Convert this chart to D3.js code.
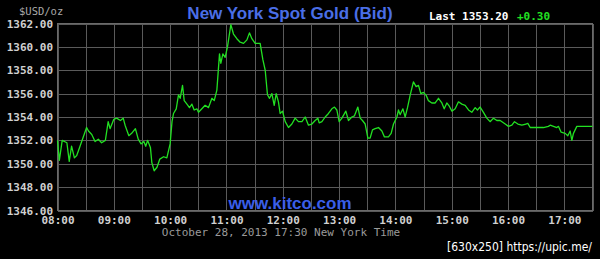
<!DOCTYPE html>
<html>
<head>
<meta charset="utf-8">
<script src="https://cdn.jsdelivr.net/npm/d3@7"></script>
<style>
  html, body { margin: 0; padding: 0; background: #000; }
  svg { display: block; }
  .grid line, .grid path { stroke: #5a5a5a; shape-rendering: crispEdges; }
  .lbl text { font-family: "DejaVu Sans Mono", monospace; font-weight: bold; font-size: 11px; fill: #d0d0d0; }
</style>
</head>
<body>
<div id="chart"></div>
<script>
// minutes after 08:00 and the bid price
const minutes = [0, 2, 5, 10, 12.5, 15, 18, 20.5, 24, 31, 33, 36.5, 40, 43.5, 47, 51, 54, 56, 60, 63, 67, 70, 72, 76, 79, 83, 86, 89, 92, 94, 96, 99, 100.5, 103, 106, 109, 113, 116.5, 120,
  122, 123.6, 126.5, 128.9, 130.7, 133.2, 135, 137.9, 140.6, 143.2, 145.6, 148.5, 150.2, 153.8, 157.3, 160.9, 164.5, 167, 169.8, 172.6, 174, 176.2, 178.6, 181.1, 184.7, 187.5, 191.1, 194.6, 198.2, 201.8, 204.5, 207.1, 210.6, 215.9, 218.8, 221.3, 223.7, 225.9, 228.4, 230.9, 233, 235.4,
  237.2, 239.7, 242.6, 246.1, 249.7, 253.2, 256.7, 260.4, 263.9, 267.4, 271, 274.5, 277.4, 278.8, 281.7, 285.2, 288.7, 292.3, 295.1, 297.6, 300.1, 303, 307.2, 310, 313.6, 316.4, 320, 322.5, 324.9, 327.8, 330.7, 333.1, 335.6, 338.4, 342, 345.6, 348.3, 352.6, 355.5,
  358, 361.6, 363.3, 365, 368, 370.4, 372.9, 375.7, 379.2, 382.1, 384.6, 387.1, 389.9, 392.8, 395.2, 398.8, 402.4, 405.9, 409.5, 412, 414.8, 417.6, 420.2, 423.7, 427.2, 430.8, 434.3, 437.9, 441.4, 445, 447.4, 450.3, 453.8, 457.4, 460.9, 464.5, 468.1, 471.6,
  477, 480.5, 484.1, 486.9, 490.5, 494.7, 499, 501.1, 503.6, 507.1, 512.4, 517.7, 523, 524.9, 528.4, 532, 533.7, 536.6, 540.9, 543.7, 546.2, 548, 549.7, 551.5, 553.3, 556.8, 570]
const prices = [1352.0, 1350.3, 1352.0, 1351.8, 1350.2, 1351.5, 1350.5, 1350.7, 1351.5, 1353.1, 1352.8, 1352.5, 1351.9, 1352.1, 1351.8, 1352.0, 1353.6, 1353.0, 1353.8, 1353.9, 1353.7, 1353.9, 1353.3, 1352.4, 1352.6, 1353.0, 1352.1, 1351.7, 1351.9, 1351.5, 1352.0, 1351.4, 1350.1, 1349.4, 1349.7, 1350.4, 1350.6, 1350.5, 1351.7,
  1353.6, 1354.3, 1354.7, 1355.9, 1355.6, 1356.7, 1355.4, 1355.1, 1354.8, 1355.1, 1354.6, 1354.7, 1354.4, 1354.7, 1355.0, 1354.8, 1355.6, 1355.4, 1356.3, 1359.4, 1358.6, 1359.4, 1359.1, 1360.0, 1361.9, 1361.1, 1360.7, 1360.4, 1360.3, 1360.6, 1361.2, 1360.7, 1360.3, 1360.3, 1358.9, 1358.0, 1355.9, 1355.6, 1356.0, 1355.0, 1356.0, 1355.3,
  1354.3, 1354.5, 1353.6, 1353.1, 1353.4, 1353.9, 1353.6, 1353.6, 1354.0, 1353.3, 1353.4, 1353.7, 1353.9, 1353.5, 1353.6, 1354.0, 1354.3, 1354.7, 1354.85, 1354.6, 1353.6, 1353.9, 1354.5, 1353.7, 1354.0, 1354.1, 1354.85, 1353.9, 1353.7, 1353.4, 1352.2, 1352.2, 1352.9, 1353.0, 1353.1, 1352.8, 1352.3, 1352.3, 1352.6,
  1353.4, 1354.0, 1354.6, 1354.2, 1354.7, 1354.0, 1354.8, 1355.85, 1357.0, 1356.6, 1356.7, 1356.0, 1356.1, 1355.85, 1355.4, 1355.2, 1355.2, 1355.6, 1355.2, 1354.7, 1355.2, 1354.9, 1354.5, 1354.7, 1355.3, 1355.1, 1355.0, 1354.6, 1354.4, 1354.8, 1354.6, 1354.85, 1354.4, 1353.9, 1353.6, 1353.9, 1353.7, 1353.7,
  1353.4, 1353.2, 1353.3, 1353.6, 1353.4, 1353.3, 1353.4, 1353.45, 1353.1, 1353.1, 1353.1, 1353.1, 1353.2, 1353.3, 1353.2, 1353.1, 1353.2, 1352.7, 1352.6, 1352.4, 1352.8, 1352.0, 1352.6, 1352.9, 1353.2, 1353.2, 1353.2]

const yTicks = [1346, 1348, 1350, 1352, 1354, 1356, 1358, 1360, 1362]
const xGridTicks = d3.range(0, 571, 30)
const xLabelTicks = [0, 60, 120, 180, 240, 300, 360, 420, 480, 540]
const xTickLabels = ['08:00', '09:00', '10:00', '11:00', '12:00', '13:00', '14:00', '15:00', '16:00', '17:00']

const width = 600
const height = 259

const svg = d3.select('#chart').append('svg')
    .attr('width', width)
    .attr('height', height)

svg.append('rect').attr('width', width).attr('height', height).attr('fill', '#000')

const x = d3.scaleLinear().domain([0, 570]).range([57.5, 592.5])
const y = d3.scaleLinear().domain([1346, 1362]).range([210.5, 23.5])

// grid
svg.append('g')
    .attr('class', 'grid')
    .attr('transform', 'translate(0,210.5)')
    .call(d3.axisBottom(x).tickValues(xGridTicks).tickSize(-187).tickFormat('').tickSizeOuter(0))
    .call(g => g.select('.domain').remove())

svg.append('g')
    .attr('class', 'grid')
    .attr('transform', 'translate(57.5,0)')
    .call(d3.axisLeft(y).tickValues(yTicks).tickSize(-535).tickFormat('').tickSizeOuter(0))
    .call(g => g.select('.domain').remove())

svg.append('rect')
    .attr('x', 57.5).attr('y', 23.5)
    .attr('width', 535).attr('height', 187)
    .attr('fill', 'none').attr('stroke', '#6a6a6a')
    .style('shape-rendering', 'crispEdges')

// labels
svg.append('g')
    .attr('class', 'lbl')
    .attr('transform', 'translate(53,0)')
    .call(d3.axisLeft(y).tickValues(yTicks).tickSize(0).tickPadding(0).tickFormat(d3.format('.2f')))
    .call(g => g.select('.domain').remove())

svg.append('g')
    .attr('class', 'lbl')
    .attr('transform', 'translate(0,216)')
    .call(d3.axisBottom(x).tickValues(xLabelTicks).tickSize(0).tickPadding(0).tickFormat((d, i) => xTickLabels[i]))
    .call(g => g.select('.domain').remove())

svg.selectAll('.lbl text').attr('fill', '#d0d0d0')

// the price line
const line = d3.line()
    .x((d, i) => x(minutes[i]))
    .y(d => y(d))

svg.append('path')
    .datum(prices)
    .attr('fill', 'none')
    .attr('stroke', '#22e022')
    .attr('stroke-width', 1.3)
    .attr('stroke-linejoin', 'round')
    .attr('d', line)

// texts
const mono = '"DejaVu Sans Mono", monospace'
svg.append('text').attr('x', 19).attr('y', 15)
    .style('font-family', mono).style('font-size', '10.5px').attr('fill', '#a8a8a8')
    .text('$USD/oz')

svg.append('text').attr('x', 290).attr('y', 18.5).attr('text-anchor', 'middle')
    .style('font-family', '"Liberation Sans", Arial, sans-serif').style('font-weight', 'bold').style('font-size', '17px')
    .attr('fill', '#4a6ee6')
    .text('New York Spot Gold (Bid)')

svg.append('text').attr('x', 429).attr('y', 20)
    .style('font-family', mono).style('font-weight', 'bold').style('font-size', '11px').attr('fill', '#fff')
    .text('Last 1353.20')

svg.append('text').attr('x', 517).attr('y', 20)
    .style('font-family', mono).style('font-weight', 'bold').style('font-size', '11px').attr('fill', '#22e022')
    .text('+0.30')

svg.append('text').attr('x', 290).attr('y', 209).attr('text-anchor', 'middle')
    .style('font-family', '"Liberation Sans", Arial, sans-serif').style('font-weight', 'bold').style('font-size', '17px')
    .attr('fill', '#3a5ee8')
    .text('www.kitco.com')

svg.append('text').attr('x', 281).attr('y', 236).attr('text-anchor', 'middle')
    .style('font-family', mono).style('font-size', '11px').attr('fill', '#9a9a9a')
    .text('October 28, 2013 17:30 New York Time')

svg.append('text').attr('x', 447).attr('y', 251)
    .attr('textLength', 145).attr('lengthAdjust', 'spacingAndGlyphs')
    .style('font-family', '"DejaVu Sans", sans-serif').style('font-size', '11.5px').attr('fill', '#fff')
    .text('[630x250] https://upic.me/')
</script>
</body>
</html>
